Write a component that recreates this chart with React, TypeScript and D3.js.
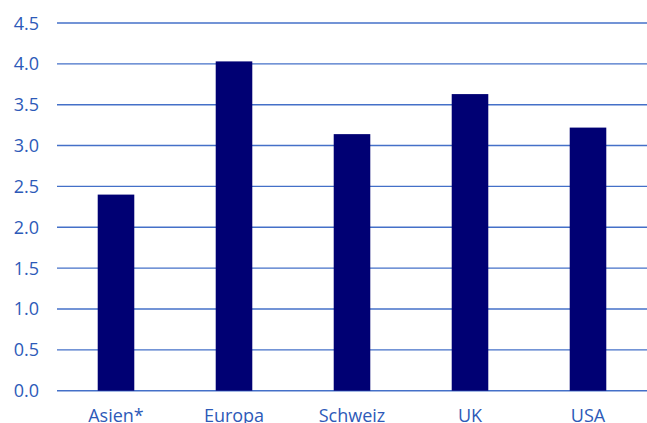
import React from "react";
import * as d3 from "d3";

const categories = ["Asien*", "Europa", "Schweiz", "UK", "USA"];
const values = [2.4, 4.03, 3.14, 3.63, 3.22];
const yTicks = [0, 0.5, 1, 1.5, 2, 2.5, 3, 3.5, 4, 4.5];

const W = 647;
const H = 423;
const left = 57;
const right = 647;
const top = 23;
const bottom = 390.7;

export default function App() {
  const x = d3.scaleBand<string>().domain(categories).range([left, right]).paddingInner(0.69).paddingOuter(0.345);
  const y = d3.scaleLinear().domain([0, 4.5]).range([bottom, top]);
  const font = "'Open Sans', 'Noto Sans', sans-serif";
  const textColor = "#2d5ab8";
  return (
    <svg width={W} height={H} style={{ position: "absolute", left: 0, top: 0 }} fontFamily={font}>
      {yTicks.map((t) => (
        <g key={t}>
          <line x1={left} x2={right} y1={y(t)} y2={y(t)} stroke="#4470c8" strokeWidth={1.4} />
          <text x={39} y={y(t) + 6.5} textAnchor="end" fontSize={18} fill={textColor}>
            {d3.format(".1f")(t)}
          </text>
        </g>
      ))}
      {categories.map((c, i) => (
        <rect key={c} x={x(c)!} y={y(values[i])} width={x.bandwidth()} height={y(0) - y(values[i])} fill="#000073" />
      ))}
      {categories.map((c) => (
        <text key={c} x={x(c)! + x.bandwidth() / 2} y={421.5} textAnchor="middle" fontSize={18} fill={textColor}>
          {c}
        </text>
      ))}
    </svg>
  );
}
